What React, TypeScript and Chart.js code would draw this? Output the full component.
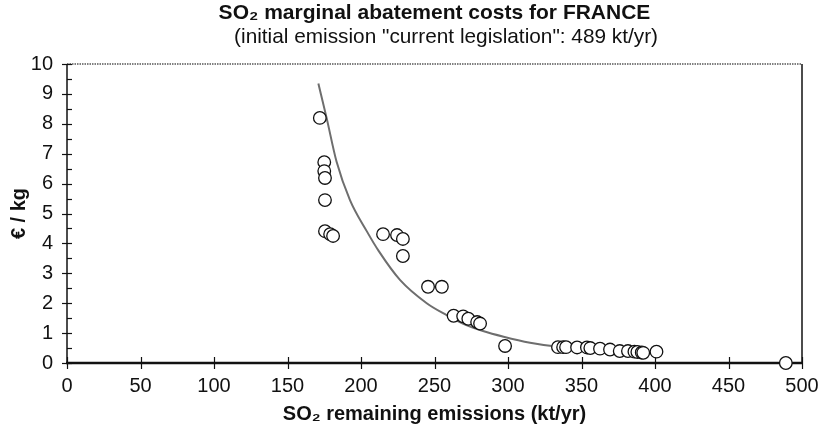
import React, { useEffect, useRef } from "react";
import { Chart, registerables } from "chart.js";

Chart.register(...registerables);

const titleText = "SO\u2082 marginal abatement costs for FRANCE";
const subtitleText = '\u00a0\u00a0\u00a0\u00a0(initial emission "current legislation": 489 kt/yr)';
const xAxisTitle = "SO\u2082 remaining emissions (kt/yr)";
const yAxisTitle = "\u20ac / kg";

// Scenario points: remaining emissions (kt/yr) and marginal cost (€/kg)
const emissions = [172, 175, 175, 175.5, 175.5, 175.5, 179, 181, 215, 224.5, 228.5, 228.5, 245.6, 255, 263, 269.5, 273, 279, 281, 298, 334, 337.5, 339.5, 347, 353.7, 356, 362.6, 369.4, 376, 381.6, 386, 388, 391, 392, 401, 489];
const costs = [8.2, 6.72, 6.42, 6.19, 5.45, 4.41, 4.31, 4.25, 4.31, 4.28, 4.15, 3.58, 2.55, 2.55, 1.58, 1.56, 1.48, 1.37, 1.32, 0.57, 0.53, 0.53, 0.53, 0.52, 0.52, 0.5, 0.48, 0.45, 0.4, 0.4, 0.38, 0.37, 0.35, 0.34, 0.38, 0];

// Fitted curve
const curveX = [171, 176.6, 183.4, 192.5, 203.8, 212, 226.5, 244.7, 258.3, 270, 283, 297, 315, 333, 360, 395];
const curveY = [9.35, 8.2, 6.73, 5.45, 4.42, 3.75, 2.78, 2.0, 1.6, 1.3, 1.07, 0.88, 0.68, 0.55, 0.45, 0.37];

const xTickValues = [0, 50, 100, 150, 200, 250, 300, 350, 400, 450, 500];
const yTickValues = [0, 1, 2, 3, 4, 5, 6, 7, 8, 9, 10];
const yMinorValues = [0.5, 1.5, 2.5, 3.5, 4.5, 5.5, 6.5, 7.5, 8.5, 9.5];

const FONT = "'Liberation Sans', Arial, Helvetica, sans-serif";

const axesPlugin = {
  id: "axesDeco",
  beforeDatasetsDraw(chart: any) {
    const { ctx, chartArea, scales } = chart;
    const { left, right, top, bottom } = chartArea;
    const x = scales.x;
    const y = scales.y;
    ctx.save();
    ctx.strokeStyle = "#555";
    ctx.lineWidth = 1.5;
    ctx.setLineDash([1.5, 1]);
    ctx.beginPath();
    ctx.moveTo(left, top);
    ctx.lineTo(right, top);
    ctx.stroke();
    ctx.setLineDash([]);
    ctx.strokeStyle = "#111";
    ctx.lineWidth = 1.5;
    ctx.beginPath();
    ctx.moveTo(right, top);
    ctx.lineTo(right, bottom);
    ctx.stroke();
    ctx.beginPath();
    ctx.moveTo(left, top);
    ctx.lineTo(left, bottom);
    ctx.stroke();
    ctx.lineWidth = 1.2;
    for (const v of yTickValues) {
      const py = Math.round(y.getPixelForValue(v)) + 0.5;
      ctx.beginPath();
      ctx.moveTo(left - 5, py);
      ctx.lineTo(left + 5, py);
      ctx.stroke();
    }
    for (const v of yMinorValues) {
      const py = Math.round(y.getPixelForValue(v)) + 0.5;
      ctx.beginPath();
      ctx.moveTo(left, py);
      ctx.lineTo(left + 5, py);
      ctx.stroke();
    }
    for (const v of xTickValues) {
      const px = Math.round(x.getPixelForValue(v)) + 0.5;
      ctx.beginPath();
      ctx.moveTo(px, bottom - 6);
      ctx.lineTo(px, bottom + 6);
      ctx.stroke();
    }
    ctx.lineWidth = 2.5;
    ctx.beginPath();
    ctx.moveTo(left - 1, bottom);
    ctx.lineTo(right + 1, bottom);
    ctx.stroke();
    ctx.restore();
  },
};

export default function App() {
  const ref = useRef<HTMLCanvasElement | null>(null);

  useEffect(() => {
    if (!ref.current) return;
    const chart = new Chart(ref.current, {
      type: "scatter",
      data: {
        datasets: [
          {
            label: "points",
            data: emissions.map((e, i) => ({ x: e, y: costs[i] })),
            pointRadius: 6.3,
            pointBorderWidth: 1.3,
            pointBorderColor: "#111",
            pointBackgroundColor: "#fff",
            showLine: false,
            clip: false,
            order: 0,
          } as any,
          {
            type: "line",
            label: "fit",
            data: curveX.map((e, i) => ({ x: e, y: curveY[i] })),
            borderColor: "#6e6e6e",
            borderWidth: 2,
            pointRadius: 0,
            cubicInterpolationMode: "monotone",
            fill: false,
            order: 1,
          } as any,
        ],
      },
      options: {
        animation: false,
        responsive: false,
        maintainAspectRatio: false,
        layout: { padding: { left: 0, right: 17, top: 0, bottom: 0 } },
        plugins: {
          legend: { display: false },
          tooltip: { enabled: false },
          title: {
            display: true,
            text: titleText,
            fullSize: false,
            color: "#111",
            font: { family: FONT, size: 21, weight: "bold", lineHeight: 1.1 },
            padding: { top: 2, bottom: 0 },
          },
          subtitle: {
            display: true,
            text: subtitleText,
            fullSize: false,
            color: "#111",
            font: { family: FONT, size: 20.8, weight: "normal", lineHeight: 1.1 },
            padding: { top: 1, bottom: 15.1 },
          },
        },
        scales: {
          x: {
            type: "linear",
            min: 0,
            max: 500,
            afterFit: (s: any) => {
              s.height = 64;
              s.paddingLeft = 0;
              s.paddingRight = 0;
            },
            afterBuildTicks: (s: any) => {
              s.ticks = xTickValues.map((v) => ({ value: v }));
            },
            grid: { display: false },
            border: { display: false },
            ticks: {
              color: "#111",
              font: { family: FONT, size: 20 },
              padding: 3,
              maxRotation: 0,
            },
            title: {
              display: true,
              text: xAxisTitle,
              color: "#111",
              font: { family: FONT, size: 20, weight: "bold" },
              padding: { top: 0, bottom: 1 },
            },
          },
          y: {
            type: "linear",
            min: 0,
            max: 10,
            afterFit: (s: any) => {
              s.width = 67;
              s.paddingTop = 0;
              s.paddingBottom = 0;
            },
            afterBuildTicks: (s: any) => {
              s.ticks = yTickValues.map((v) => ({ value: v }));
            },
            grid: { display: false },
            border: { display: false },
            ticks: {
              color: "#111",
              font: { family: FONT, size: 20 },
              padding: 6,
            },
            title: {
              display: true,
              text: yAxisTitle,
              color: "#111",
              font: { family: FONT, size: 20, weight: "bold" },
              padding: { top: 7, bottom: 0 },
            },
          },
        },
      },
      plugins: [axesPlugin],
    });
    return () => chart.destroy();
  }, []);

  return (
    <div style={{ position: "fixed", left: 0, top: 0, width: 819, height: 427, background: "#fff" }}>
      <canvas ref={ref} width={819} height={427} style={{ width: 819, height: 427, display: "block" }} />
    </div>
  );
}
